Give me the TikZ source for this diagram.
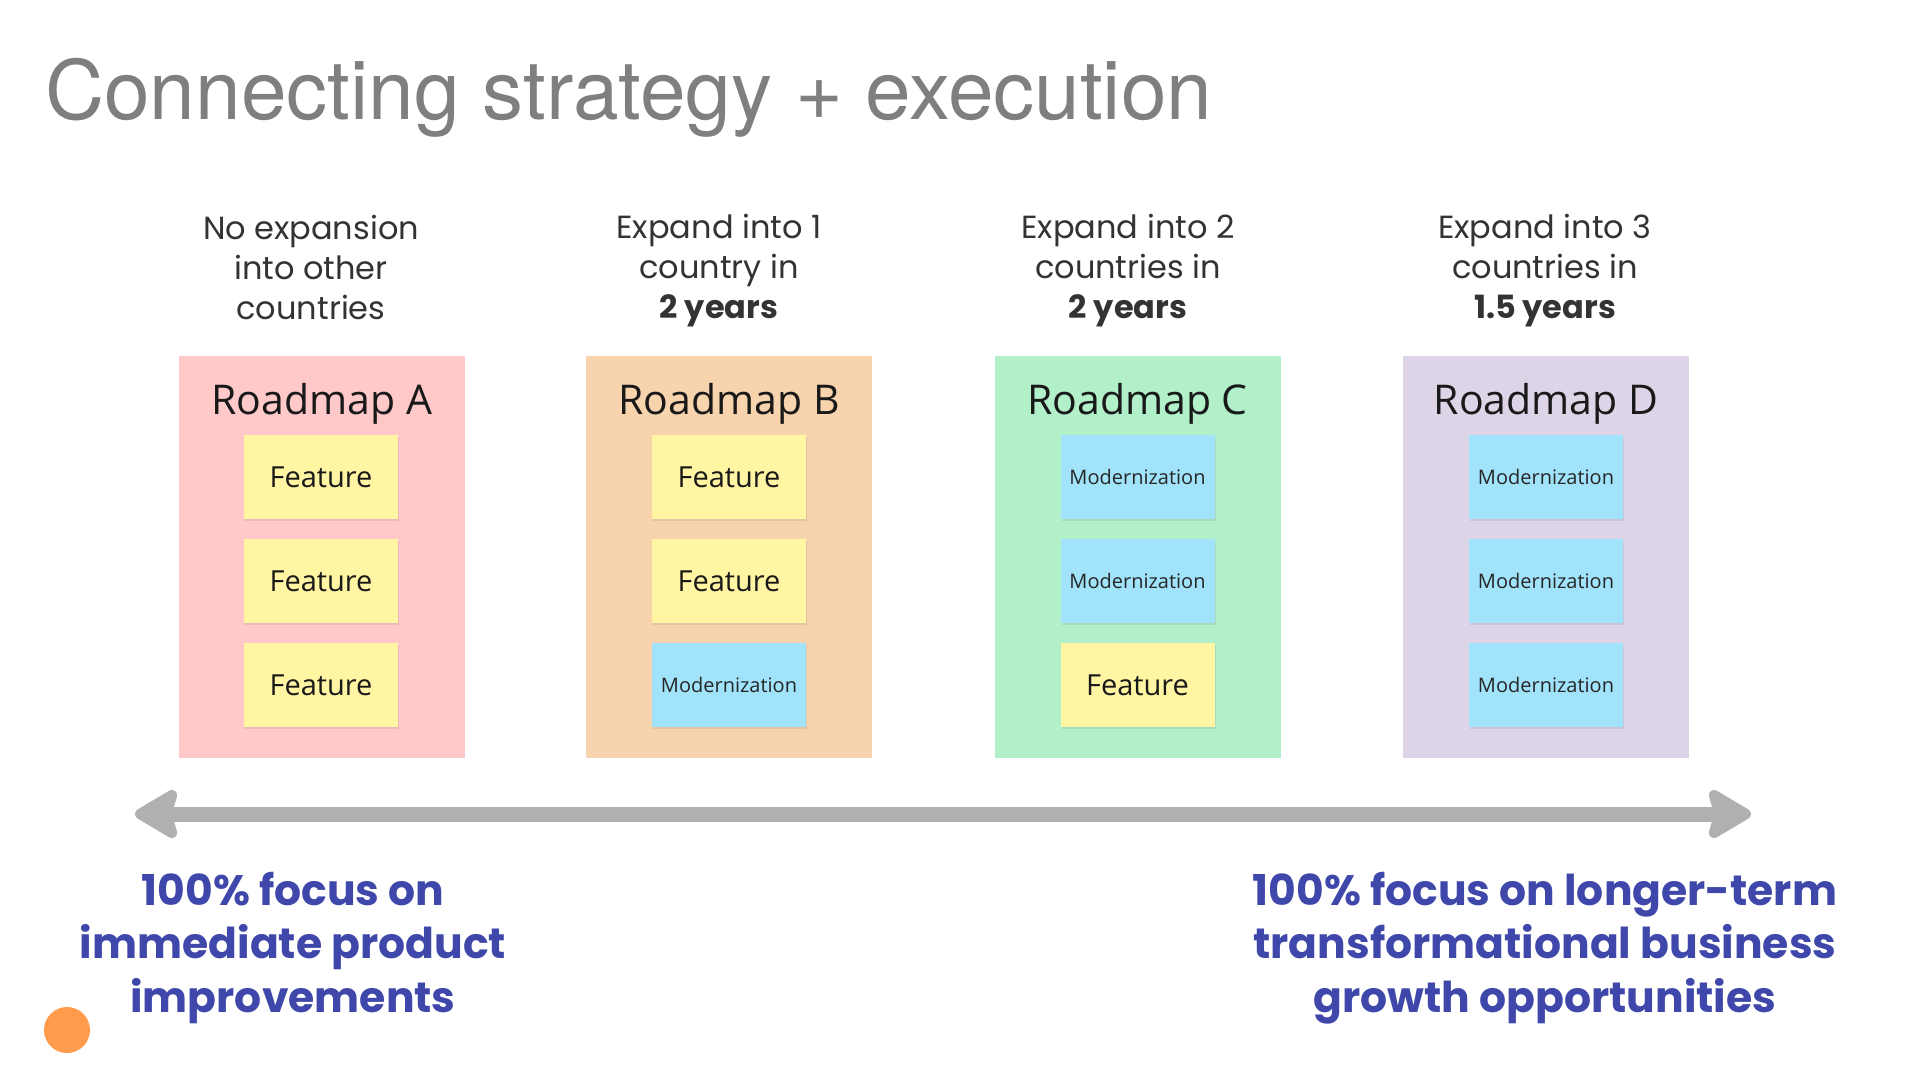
\documentclass[tikz,border=0pt]{standalone}
\usepackage{fontspec}
\usetikzlibrary{arrows.meta,shadows}
\newfontfamily\titlefont{TeX Gyre Heros}
\newfontfamily\hdrfont{Poppins}
\newfontfamily\stickyfont{Open Sans}
\newfontfamily\focusfont{Poppins}
\definecolor{titlegray}{HTML}{7F7F7F}
\definecolor{hdrgray}{HTML}{333333}
\definecolor{boxA}{HTML}{FFC9C9}
\definecolor{boxB}{HTML}{F8D4AE}
\definecolor{boxC}{HTML}{B1F0C8}
\definecolor{boxD}{HTML}{DDD4E8}
\definecolor{stickyY}{HTML}{FFF5A3}
\definecolor{stickyB}{HTML}{A0E3FA}
\definecolor{arrowgray}{HTML}{B0B0B0}
\definecolor{focusblue}{HTML}{3F48AA}
\definecolor{dotorange}{HTML}{FF9B4C}
\tikzset{
  roadbox/.style={minimum width=286pt, minimum height=402pt, inner sep=0pt, anchor=center},
  roadtitle/.style={font=\stickyfont\fontsize{41}{46}\selectfont, text=black!90, anchor=center, inner sep=0pt},
  sticky/.style={minimum width=154pt, minimum height=84pt, inner sep=0pt, anchor=center,
     drop shadow={opacity=0.18, shadow xshift=1pt, shadow yshift=-2pt}},
  feat/.style={sticky, fill=stickyY, font=\stickyfont\fontsize{29}{32}\selectfont, text=black!90},
  modern/.style={sticky, fill=stickyB, font=\stickyfont\fontsize{20}{24}\selectfont, text=black!85},
  hdr/.style={font=\hdrfont\fontsize{32}{40}\selectfont, text=hdrgray, align=center, anchor=north, inner sep=0pt},
  focus/.style={font=\focusfont\bfseries\fontsize{42.5}{53.3}\selectfont, text=focusblue, align=center, anchor=north, inner sep=0pt},
}
\begin{document}
\begin{tikzpicture}[x=1pt,y=-1pt]
\useasboundingbox[fill=white] (0,0) rectangle (1920,1080);
% title
\node[anchor=base west, inner sep=0pt, text=titlegray, font=\titlefont\fontsize{82}{90}\selectfont] (title) at (45,119) {Connecting strategy + execution};

% headers
\node[hdr] (hA) at (311,215) {No expansion\\into other\\countries};
\node[hdr] (hB) at (719,214) {Expand into 1\\country in\\\textbf{2 years}};
\node[hdr] (hC) at (1128,214) {Expand into 2\\countries in\\\textbf{2 years}};
\node[hdr] (hD) at (1545,214) {Expand into 3\\countries in\\\textbf{1.5 years}};

% boxes
\node[roadbox, fill=boxA] (bA) at (322,557) {};
\node[roadbox, fill=boxB] (bB) at (729,557) {};
\node[roadbox, fill=boxC] (bC) at (1137.5,557) {};
\node[roadbox, fill=boxD] (bD) at (1546,557) {};

\node[roadtitle] (tA) at (322,404) {Roadmap A};
\node[roadtitle] (tB) at (729,404) {Roadmap B};
\node[roadtitle] (tC) at (1137.5,404) {Roadmap C};
\node[roadtitle] (tD) at (1546,404) {Roadmap D};

% stickies A
\node[feat] (a1) at (321,477) {Feature};
\node[feat] (a2) at (321,581) {Feature};
\node[feat] (a3) at (321,685) {Feature};
% B
\node[feat] (b1) at (729,477) {Feature};
\node[feat] (b2) at (729,581) {Feature};
\node[modern] (b3) at (729,685) {Modernization};
% C
\node[modern] (c1) at (1137.5,477) {Modernization};
\node[modern] (c2) at (1137.5,581) {Modernization};
\node[feat] (c3) at (1137.5,685) {Feature};
% D
\node[modern] (d1) at (1546,477) {Modernization};
\node[modern] (d2) at (1546,581) {Modernization};
\node[modern] (d3) at (1546,685) {Modernization};

% arrow
\coordinate (arrL) at (135,814);
\coordinate (arrR) at (1751,814);
\draw[arrowgray, line width=15pt, {Stealth[length=50pt,width=58pt,inset=8pt,round]}-{Stealth[length=50pt,width=58pt,inset=8pt,round]}] (arrL) -- (arrR);

% focus texts
\node[focus] (fL) at (293,872) {100\% focus on\\immediate product\\improvements};
\node[focus] (fR) at (1545,872) {100\% focus on longer-term\\transformational business\\growth opportunities};

% orange dot
\node[circle, fill=dotorange, minimum size=46pt, inner sep=0pt] (dot) at (67,1030) {};
\end{tikzpicture}
\end{document}
